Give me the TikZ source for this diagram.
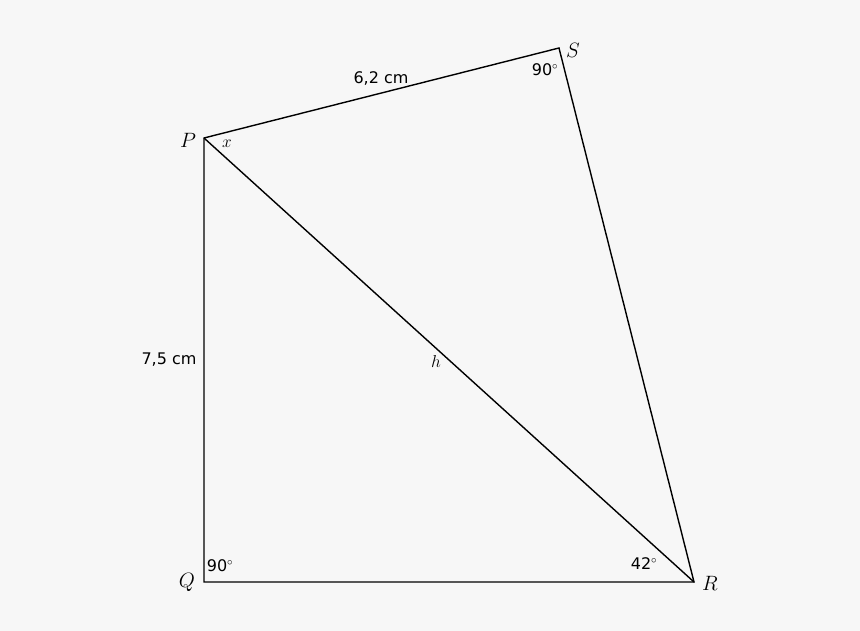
\documentclass[tikz,border=0pt]{standalone}
\usepackage{fontspec}
\newfontfamily\lblfont{DejaVu Sans}
\definecolor{bg}{HTML}{F7F7F7}
\begin{document}
\begin{tikzpicture}[x=1pt,y=-1pt,
  edge/.style={line width=1.4pt,line join=miter},
  vlabel/.style={font=\fontsize{20}{24}\selectfont,inner sep=0pt},
  tlabel/.style={font=\lblfont\fontsize{16}{19}\selectfont,inner sep=0pt}]
\fill[bg] (0,0) rectangle (860,631);
\useasboundingbox (0,0) rectangle (860,631);
\coordinate (P) at (204,138);
\coordinate (S) at (559,48);
\coordinate (Q) at (204,582);
\coordinate (R) at (694,582);
\draw[edge] (P) -- (S) -- (R) -- (Q) -- cycle;
\draw[edge] (P) -- (R);
\node[vlabel] (lP) at (188,140) {$P$};
\node[vlabel] (lS) at (573,50) {$S$};
\node[vlabel] (lQ) at (187,582) {$Q$};
\node[vlabel] (lR) at (710,583) {$R$};
\node[vlabel,font=\fontsize{18}{21}\selectfont] (lx) at (227,144) {$x$};
\node[vlabel,font=\fontsize{18}{21}\selectfont] (lh) at (436,361) {$h$};
\node[tlabel] (lps) at (381,78) {6,2 cm};
\node[tlabel] (lpq) at (169,360) {7,5 cm};
\node[tlabel] (aS) at (545,70) {90$^\circ$};
\node[tlabel] (aQ) at (220,566) {90$^\circ$};
\node[tlabel] (aR) at (644,564) {42$^\circ$};
\end{tikzpicture}
\end{document}
